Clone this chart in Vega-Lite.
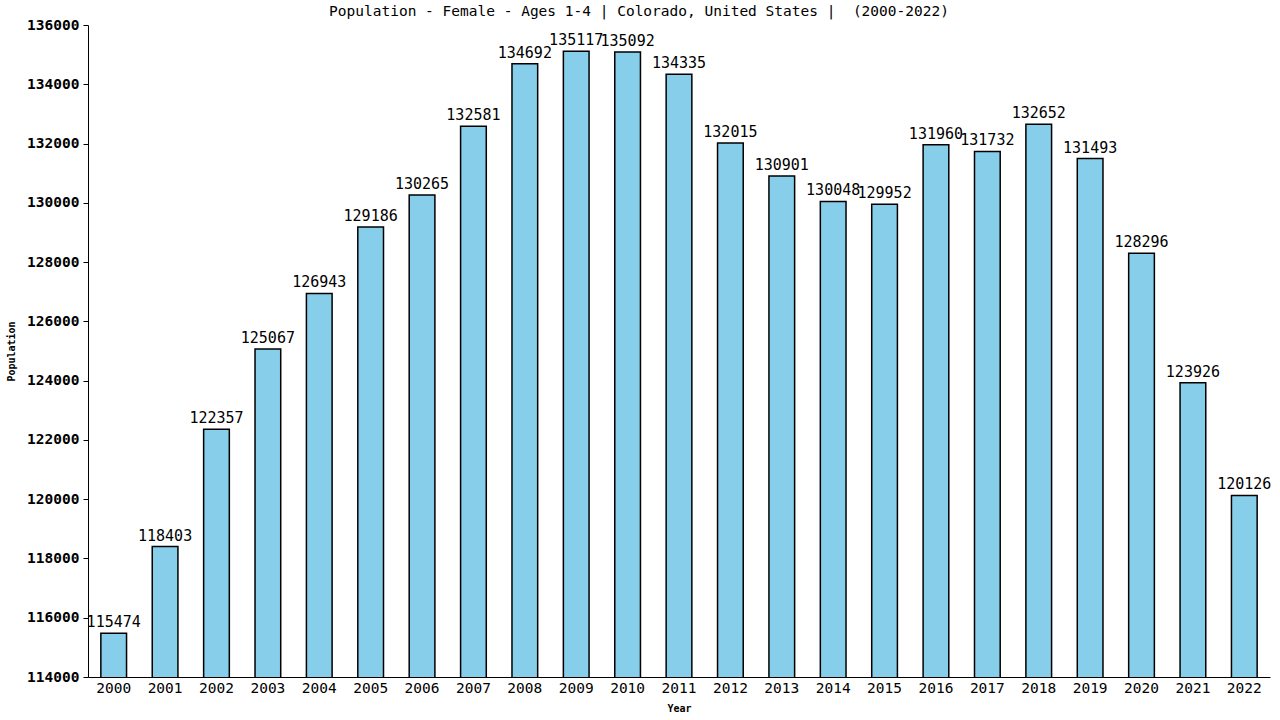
{
  "$schema": "https://vega.github.io/schema/vega-lite/v6.json",
  "width": 1182,
  "height": 652,
  "autosize": {"type": "none"},
  "padding": {"left": 88, "top": 25, "right": 10, "bottom": 43},
  "background": "white",
  "title": {
    "text": "Population - Female - Ages 1-4 | Colorado, United States |\u00a0 (2000-2022)",
    "font": "DejaVu Sans Mono",
    "fontSize": 14.5,
    "fontWeight": "normal",
    "anchor": "middle",
    "dx": -40,
    "offset": -2
  },
  "config": {
    "view": {"stroke": null},
    "axis": {
      "labelFont": "DejaVu Sans Mono",
      "titleFont": "DejaVu Sans Mono",
      "labelColor": "black",
      "titleColor": "black",
      "domainColor": "black",
      "tickColor": "black",
      "grid": false
    }
  },
  "data": {
    "values": [
      {"year": "2000", "population": 115474},
      {"year": "2001", "population": 118403},
      {"year": "2002", "population": 122357},
      {"year": "2003", "population": 125067},
      {"year": "2004", "population": 126943},
      {"year": "2005", "population": 129186},
      {"year": "2006", "population": 130265},
      {"year": "2007", "population": 132581},
      {"year": "2008", "population": 134692},
      {"year": "2009", "population": 135117},
      {"year": "2010", "population": 135092},
      {"year": "2011", "population": 134335},
      {"year": "2012", "population": 132015},
      {"year": "2013", "population": 130901},
      {"year": "2014", "population": 130048},
      {"year": "2015", "population": 129952},
      {"year": "2016", "population": 131960},
      {"year": "2017", "population": 131732},
      {"year": "2018", "population": 132652},
      {"year": "2019", "population": 131493},
      {"year": "2020", "population": 128296},
      {"year": "2021", "population": 123926},
      {"year": "2022", "population": 120126}
    ]
  },
  "encoding": {
    "x": {
      "field": "year",
      "type": "ordinal",
      "title": "Year",
      "scale": {"paddingInner": 0.5, "paddingOuter": 0.25},
      "axis": {
        "labelAngle": 0,
        "labelFontSize": 14.5,
        "labelPadding": 4,
        "ticks": false,
        "titleFontSize": 10,
        "titleFontWeight": "bold",
        "titlePadding": 9
      }
    },
    "y": {
      "field": "population",
      "type": "quantitative",
      "title": "Population",
      "scale": {"domain": [114000, 136000], "zero": false, "nice": false},
      "axis": {
        "values": [114000, 116000, 118000, 120000, 122000, 124000, 126000, 128000, 130000, 132000, 134000, 136000],
        "format": "d",
        "labelFontSize": 14.5,
        "labelFontWeight": "bold",
        "tickSize": 5,
        "labelPadding": 4,
        "titleFontSize": 10,
        "titleFontWeight": "bold",
        "titlePadding": 10
      }
    }
  },
  "layer": [
    {
      "mark": {"type": "bar", "color": "#87CEEB", "stroke": "black", "strokeWidth": 1.5, "clip": true}
    },
    {
      "mark": {"type": "text", "font": "DejaVu Sans Mono", "fontSize": 15, "baseline": "bottom", "dy": -3, "color": "black"},
      "encoding": {"text": {"field": "population", "type": "quantitative", "format": "d"}}
    }
  ]
}
